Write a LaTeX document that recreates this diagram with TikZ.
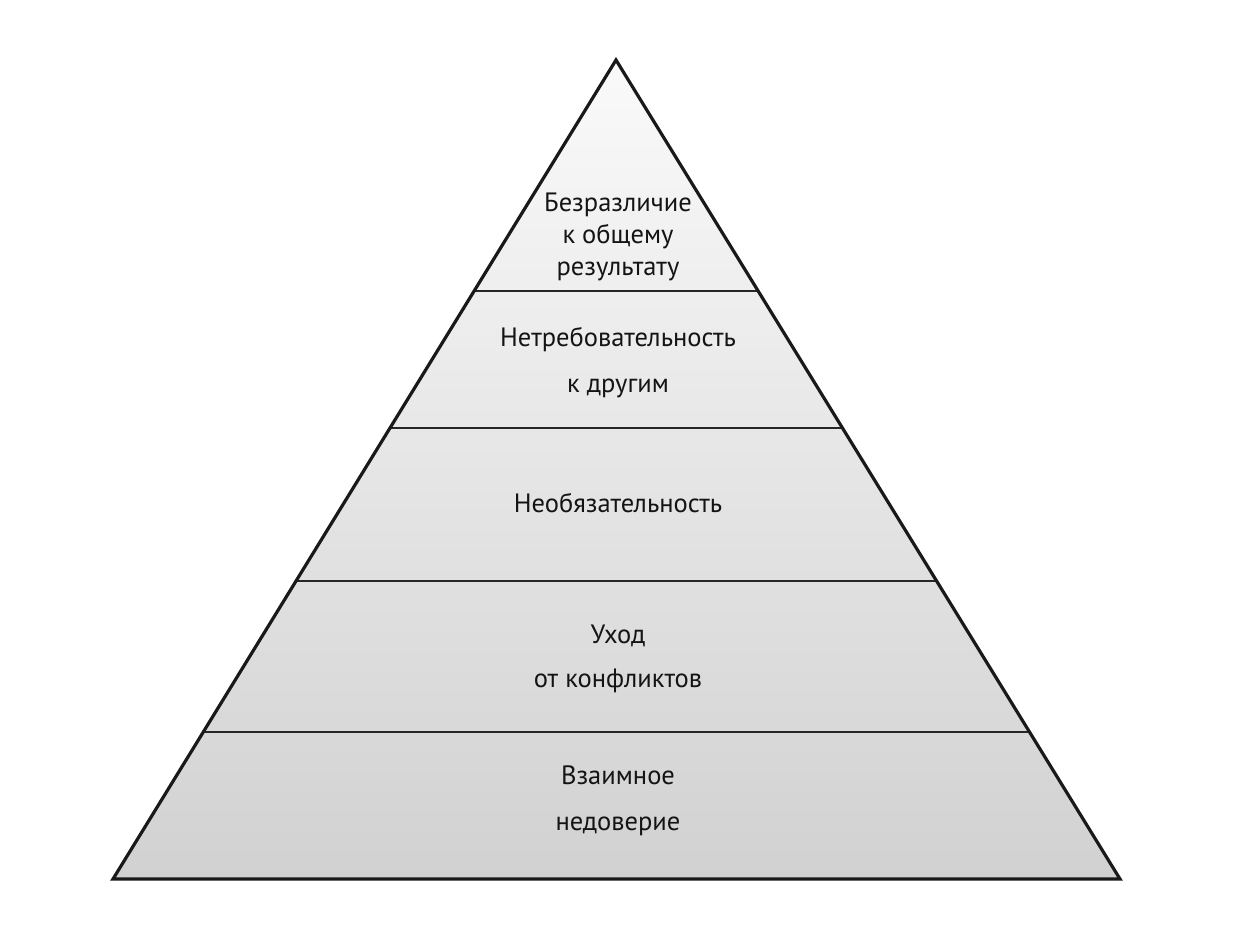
\documentclass[tikz,border=0pt]{standalone}
\usepackage{fontspec}
\setmainfont{PT Sans}
\usetikzlibrary{calc}
\begin{document}
\begin{tikzpicture}[x=1pt,y=-1pt,
  lbl/.style={font=\fontsize{26.5}{32}\selectfont, text=black!92, align=center, inner sep=0pt},
  divider/.style={draw=black!85, line width=1.5pt},
  outline/.style={draw=black!90, line width=3.2pt, line join=miter}]
\useasboundingbox (0,0) rectangle (1258,946);
\coordinate (apex) at (616,60);
\coordinate (bl) at (113,879);
\coordinate (br) at (1120,879);
\shade[top color=white!98!black, bottom color=black!18] (apex) -- (bl) -- (br) -- cycle;
\foreach \t/\n in {0.2821/a,0.4493/b,0.6361/c,0.8205/d}{
  \coordinate (l\n) at ($(apex)!\t!(bl)$);
  \coordinate (r\n) at ($(apex)!\t!(br)$);
  \draw[divider] (l\n) -- (r\n);
}
\draw[outline] (apex) -- (bl) -- (br) -- cycle;
\node[lbl] (t1) at (618,237) {Безразличие\\к общему\\результату};
\node[lbl] (t2) at (618,363) {Нетребовательность\\[14pt]к другим};
\node[lbl] (t3) at (618,503) {Необязательность};
\node[lbl] (t4) at (618,659) {Уход\\[12pt]от конфликтов};
\node[lbl] (t5) at (618,801) {Взаимное\\[14pt]недоверие};
\end{tikzpicture}
\end{document}
